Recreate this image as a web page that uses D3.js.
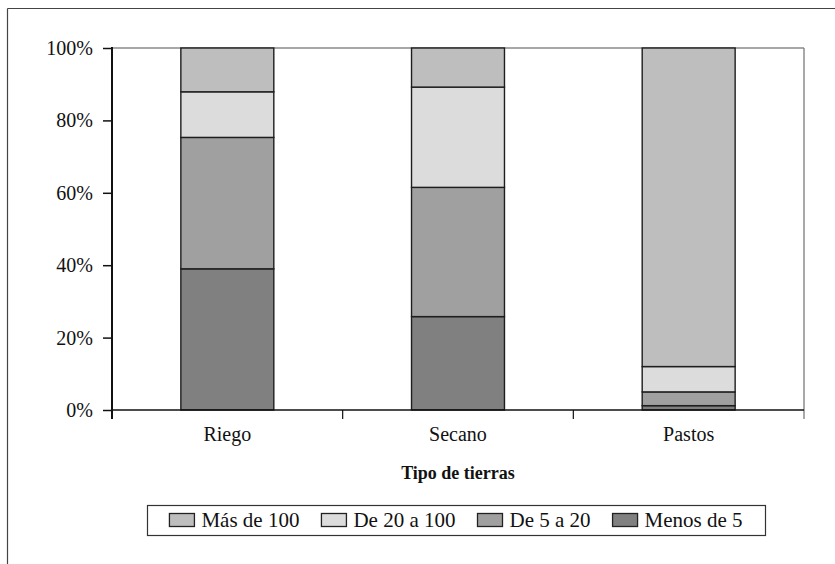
<!DOCTYPE html>
<html>
<head>
<meta charset="utf-8">
<script src="https://cdn.jsdelivr.net/npm/d3@7"></script>
<style>
  html, body { margin: 0; padding: 0; background: #fff; }
  svg { display: block; }
  svg text { font-family: "Liberation Serif", "DejaVu Serif", serif !important; fill: #111; }
</style>
</head>
<body>
<svg id="chart" width="835" height="564"></svg>
<script>
// ---- data ----
const categories = ["Riego", "Secano", "Pastos"];
const seriesNames = ["Menos de 5", "De 5 a 20", "De 20 a 100", "Más de 100"];
const menosDe5   = [39.0, 25.8, 1.2];
const de5a20     = [36.3, 35.7, 3.8];
const de20a100   = [12.6, 27.7, 7.0];
const masDe100   = [12.1, 10.8, 88.0];
const yTicks = [0, 0.2, 0.4, 0.6, 0.8, 1.0];
const legendOrder = ["Más de 100", "De 20 a 100", "De 5 a 20", "Menos de 5"];
const xTitle = "Tipo de tierras";

const colors = {
  "Menos de 5": "#808080",
  "De 5 a 20": "#a0a0a1",
  "De 20 a 100": "#dcdcdd",
  "Más de 100": "#bebebe"
};

const valuesBySeries = {
  "Menos de 5": menosDe5,
  "De 5 a 20": de5a20,
  "De 20 a 100": de20a100,
  "Más de 100": masDe100
};

const table = categories.map((c, i) => {
  const row = { cat: c };
  seriesNames.forEach(s => row[s] = valuesBySeries[s][i]);
  return row;
});
const stacked = d3.stack().keys(seriesNames).offset(d3.stackOffsetExpand)(table);

// ---- layout ----
const FONT = "'Liberation Serif', 'DejaVu Serif', serif";
const svg = d3.select("#chart");
const X0 = 112, X1 = 804, YT = 48, YB = 410;

// outer frame (cropped on right/bottom)
svg.append("line").attr("x1", 7.5).attr("x2", 835).attr("y1", 8.5).attr("y2", 8.5)
  .attr("stroke", "#444").attr("stroke-width", 1.2);
svg.append("line").attr("x1", 7.5).attr("x2", 7.5).attr("y1", 8.5).attr("y2", 564)
  .attr("stroke", "#444").attr("stroke-width", 1.2);

const x = d3.scaleBand().domain(categories).range([X0, X1]).padding(0);
const y = d3.scaleLinear().domain([0, 1]).range([YB, YT]);
const barW = x.bandwidth() * 0.403;

// plot area border (top/right) in gray
svg.append("line").attr("x1", X0).attr("x2", X1).attr("y1", YT).attr("y2", YT)
  .attr("stroke", "#8a8a8a").attr("stroke-width", 1.3);
svg.append("line").attr("x1", X1).attr("x2", X1).attr("y1", YT).attr("y2", YB + 9)
  .attr("stroke", "#7a7a7a").attr("stroke-width", 1.3);

// bars
const g = svg.append("g");
stacked.forEach(layer => {
  g.selectAll(null).data(layer).enter().append("rect")
    .attr("x", d => x(d.data.cat) + (x.bandwidth() - barW) / 2)
    .attr("width", barW)
    .attr("y", d => y(d[1]))
    .attr("height", d => y(d[0]) - y(d[1]))
    .attr("fill", colors[layer.key])
    .attr("stroke", "#1e1e1e")
    .attr("stroke-width", 1.4);
});

// x axis line and boundary ticks
svg.append("line").attr("x1", X0).attr("x2", X1).attr("y1", YB).attr("y2", YB)
  .attr("stroke", "#111").attr("stroke-width", 1.5);
const bounds = categories.map(c => x(c)).concat([X1]);
svg.selectAll(".xt").data(bounds.slice(1, -1)).enter().append("line")
  .attr("x1", d => d).attr("x2", d => d).attr("y1", YB).attr("y2", YB + 9)
  .attr("stroke", "#111").attr("stroke-width", 1.2);

// category labels
svg.selectAll(".cl").data(categories).enter().append("text")
  .attr("x", d => x(d) + x.bandwidth() / 2)
  .attr("y", 441)
  .attr("text-anchor", "middle")
  .attr("font-family", FONT)
  .style("font-size", "20px")
  .text(d => d);

// y axis
const yAxis = d3.axisLeft(y).tickValues(yTicks).tickFormat(d3.format(".0%"))
  .tickSize(9).tickPadding(10);
const ya = svg.append("g").attr("transform", `translate(${X0},0)`).call(yAxis)
  .attr("font-family", FONT);
ya.select(".domain").remove();
ya.selectAll(".tick line").attr("stroke", "#111").attr("stroke-width", 1.5);
ya.selectAll(".tick text").style("font-size", "20px").attr("fill", "#111");
svg.append("line").attr("x1", X0).attr("x2", X0).attr("y1", YT - 1).attr("y2", YB + 9)
  .attr("stroke", "#111").attr("stroke-width", 2);

// axis title
svg.append("text").attr("x", (X0 + X1) / 2).attr("y", 479)
  .attr("text-anchor", "middle").attr("font-family", FONT)
  .style("font-size", "18px").style("font-weight", "bold")
  .text(xTitle);

// legend
const LX0 = 147, LX1 = 765, LY0 = 505, LY1 = 535;
svg.append("rect").attr("x", LX0 + 0.5).attr("y", LY0 + 0.5)
  .attr("width", LX1 - LX0).attr("height", LY1 - LY0)
  .attr("fill", "#fff").attr("stroke", "#333").attr("stroke-width", 1.2);
const lg = svg.append("g");
const swW = 25, swH = 13, gap = 7, spacing = 22;
let cursor = 0;
const items = legendOrder.map(name => {
  const it = lg.append("g");
  it.append("rect").attr("x", 0).attr("y", -swH / 2).attr("width", swW).attr("height", swH)
    .attr("fill", colors[name]).attr("stroke", "#222").attr("stroke-width", 1.3);
  const t = it.append("text").attr("x", swW + gap).attr("y", 7)
    .attr("font-family", FONT).style("font-size", "21px").text(name);
  const w = swW + gap + t.node().getComputedTextLength();
  const off = cursor;
  cursor += w + spacing;
  return { it, off };
});
const totalW = cursor - spacing;
const startX = (LX0 + LX1) / 2 - totalW / 2;
items.forEach(({ it, off }) => it.attr("transform", `translate(${startX + off},${(LY0 + LY1) / 2})`));
</script>
</body>
</html>
